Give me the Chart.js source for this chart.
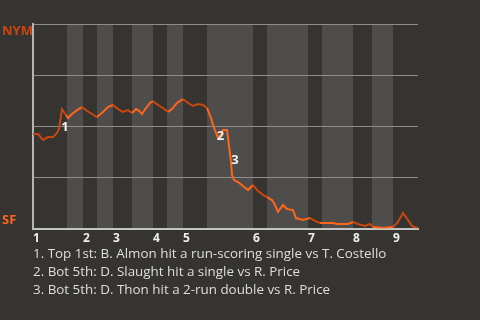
<!DOCTYPE html>
<html>
<head>
<meta charset="utf-8">
<script src="https://cdn.jsdelivr.net/npm/chart.js@4.4.1/dist/chart.umd.min.js"></script>
<style>
  html, body { margin: 0; padding: 0; background: #363431; }
  #wrap { position: relative; width: 480px; height: 320px; overflow: hidden; }
  #notes { position: absolute; left: 33px; top: 244px; font: 13.4px 'Open Sans', sans-serif; line-height: 18px; color: #dedede; white-space: nowrap; }
</style>
</head>
<body>
<div id="wrap">
  <canvas id="wp"></canvas>
  <div id="notes"></div>
</div>
<script>
// game progress (x) and NYM win probability (0 = SF wins, 1 = NYM wins)
const progress = [0, 5, 10, 15, 20, 24, 26, 29, 33, 35, 39, 44, 49, 54, 59, 64, 70, 75, 80, 85, 90, 95, 99, 103, 106, 109,
  113, 117, 120, 125, 130, 135, 139, 144, 150, 155, 160, 165, 170, 174, 178, 180, 183, 185, 188, 190, 194, 195, 198, 199,
  201, 205, 210, 215, 220, 224, 230, 234, 239, 241, 245, 250, 254, 260, 263, 270, 277, 282, 287, 294, 299, 305, 315, 320,
  325, 332, 337, 340, 350, 360, 365, 370, 375, 379, 385];
const nymWinProb = [0.462, 0.462, 0.433, 0.447, 0.447, 0.467, 0.487, 0.584, 0.555, 0.540, 0.560, 0.579, 0.594, 0.575, 0.560, 0.545, 0.570, 0.594, 0.604, 0.584, 0.570, 0.579, 0.565, 0.584, 0.575, 0.560,
  0.589, 0.614, 0.623, 0.604, 0.589, 0.570, 0.584, 0.614, 0.633, 0.614, 0.599, 0.609, 0.604, 0.589, 0.540, 0.506, 0.467, 0.443, 0.462, 0.482, 0.482, 0.443, 0.325, 0.262,
  0.237, 0.227, 0.208, 0.188, 0.213, 0.188, 0.164, 0.154, 0.139, 0.125, 0.081, 0.115, 0.095, 0.090, 0.051, 0.042, 0.051, 0.037, 0.027, 0.027, 0.027, 0.022, 0.022, 0.032,
  0.022, 0.012, 0.022, 0.007, 0.002, 0.007, 0.032, 0.076, 0.042, 0.012, 0.002];

// start of each half inning (top 1, bot 1, top 2, ...); game ends at gameEnd
const halfInningStarts = [0, 34, 50, 64, 80, 99, 120, 134, 150, 174, 220, 234, 275, 289, 320, 339, 360];
const gameEnd = 385;
const inningLabels = ['1', '2', '3', '4', '5', '6', '7', '8', '9'];
const inningStarts = halfInningStarts.filter((_, i) => i % 2 === 0);

// key plays
const eventLabelX = [32, 187.5, 202];
const eventLabelY = [0.496, 0.45, 0.335];
const eventNotes = [
  'Top 1st: B. Almon hit a run-scoring single vs T. Costello',
  'Bot 5th: D. Slaught hit a single vs R. Price',
  'Bot 5th: D. Thon hit a 2-run double vs R. Price'
];

const TOP_COLOR = '#c8460f';   // NYM batting
const BOT_COLOR = '#ff6619';   // SF batting
const BAND_COLOR = '#4f4d4b';

const halfIndex = (x) => {
  let idx = 0;
  halfInningStarts.forEach((s, i) => { if (s <= x) idx = i; });
  return idx;
};

document.getElementById('notes').innerHTML =
  eventNotes.map((t, i) => `<div>${i + 1}. ${t}</div>`).join('');

const gamePlugin = {
  id: 'gamePlugin',
  beforeDraw(chart) {
    const { ctx, chartArea, scales } = chart;
    ctx.save();
    ctx.fillStyle = BAND_COLOR;
    halfInningStarts.forEach((s, i) => {
      if (i % 2 === 1) {
        const end = i + 1 < halfInningStarts.length ? halfInningStarts[i + 1] : gameEnd;
        const x0 = scales.x.getPixelForValue(s);
        const x1 = scales.x.getPixelForValue(end);
        ctx.fillRect(x0, chartArea.top, x1 - x0, chartArea.bottom - chartArea.top);
      }
    });
    ctx.restore();
  },
  afterDatasetsDraw(chart) {
    const { ctx, chartArea, scales } = chart;
    ctx.save();
    ctx.textBaseline = 'middle';
    ctx.font = 'bold 13px "Open Sans", sans-serif';
    ctx.textAlign = 'left';
    ctx.fillStyle = TOP_COLOR;
    ctx.fillText('NYM', 2, chartArea.top + 7);
    ctx.fillStyle = BOT_COLOR;
    ctx.fillText('SF', 2, chartArea.bottom - 8);

    ctx.textAlign = 'center';
    ctx.fillStyle = '#f2f2f2';
    eventLabelX.forEach((x, i) => {
      ctx.fillText(String(i + 1), scales.x.getPixelForValue(x), scales.y.getPixelForValue(eventLabelY[i]));
    });
    ctx.restore();
  }
};

new Chart(document.getElementById('wp'), {
  type: 'line',
  data: {
    datasets: [{
      data: progress.map((x, i) => ({ x: x, y: nymWinProb[i] })),
      borderWidth: 2,
      pointRadius: 0,
      tension: 0,
      borderColor: BOT_COLOR,
      segment: {
        borderColor: (c) => halfIndex((c.p0.parsed.x + c.p1.parsed.x) / 2) % 2 === 0 ? TOP_COLOR : BOT_COLOR
      }
    }]
  },
  options: {
    responsive: true,
    maintainAspectRatio: false,
    animation: false,
    layout: { padding: { left: 33, right: 62, top: 24, bottom: 0 } },
    plugins: { legend: { display: false }, tooltip: { enabled: false } },
    scales: {
      x: {
        type: 'linear',
        min: 0,
        max: gameEnd,
        afterBuildTicks: (s) => { s.ticks = inningStarts.map(v => ({ value: v })); },
        afterFit: (s) => { s.height = 91.5; },
        ticks: {
          align: 'start',
          padding: 3,
          color: '#eeeeee',
          font: { family: 'Open Sans', size: 12, weight: 'bold' },
          callback: (v, i) => inningLabels[i]
        },
        grid: { display: false, drawTicks: false },
        border: { color: '#c4c4c4', width: 2 }
      },
      y: {
        min: 0,
        max: 1,
        afterFit: (s) => { s.width = 0; },
        ticks: { display: false, stepSize: 0.25 },
        grid: { color: '#8e8d8b', lineWidth: 1, drawTicks: false },
        border: { color: '#b4b4b4', width: 2 }
      }
    }
  },
  plugins: [gamePlugin]
});
</script>
</body>
</html>
